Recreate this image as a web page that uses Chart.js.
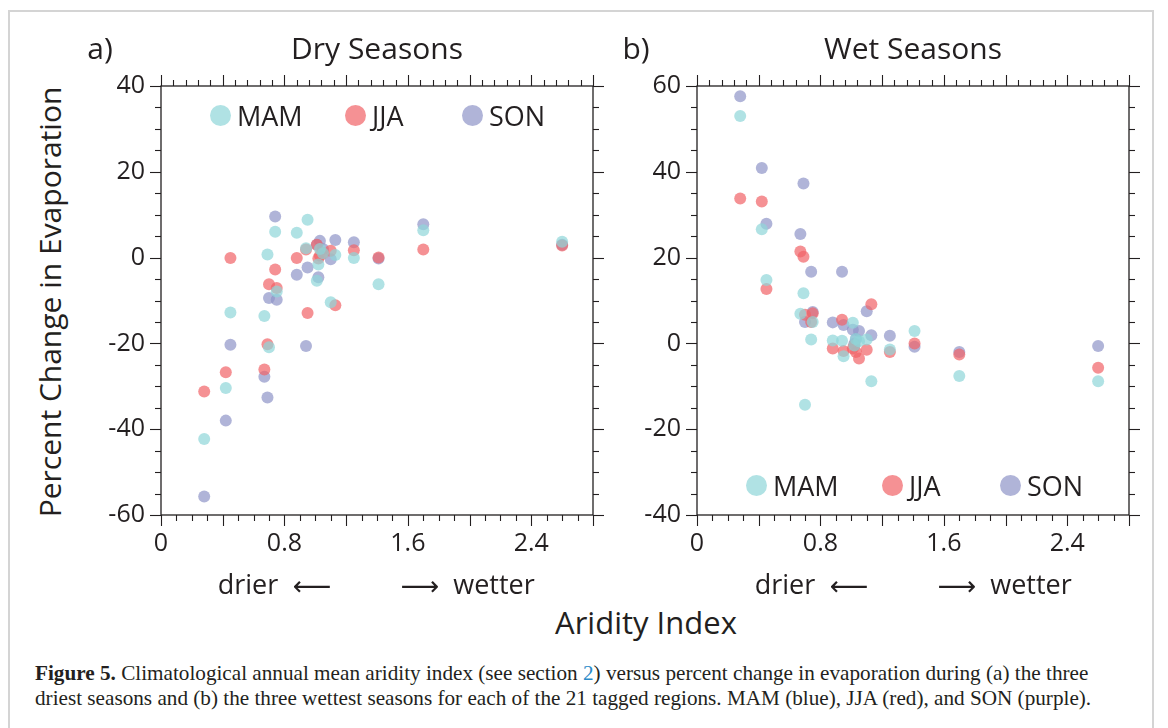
<!DOCTYPE html>
<html>
<head>
<meta charset="utf-8">
<script src="https://cdn.jsdelivr.net/npm/chart.js@4.4.1/dist/chart.umd.min.js"></script>
<style>
  body { margin: 0; background: #fff; width: 1168px; height: 728px; overflow: hidden; position: relative; font-family: 'Open Sans', sans-serif; color: #231f20; }
  .frame { position: absolute; left: 8px; top: 10px; width: 1146px; height: 740px; border: 2px solid #d4d4d4; box-sizing: border-box; }
  canvas { position: absolute; }
  .t { position: absolute; white-space: nowrap; transform: translate(-50%, -50%); line-height: 1; }
  .lg { position: absolute; display: flex; align-items: center; font-size: 27px; line-height: 1; }
  .lg span.dot { display: inline-block; width: 21px; height: 21px; border-radius: 50%; margin-right: 6px; }
  .caption { position: absolute; left: 35px; top: 661px; font-family: 'Liberation Serif', serif; font-size: 21.2px; line-height: 25px; color: #231f20; white-space: nowrap; }
  .caption a { color: #2a8ac8; text-decoration: none; }
</style>
</head>
<body>
<div class="frame"></div>
<canvas id="dry" width="540" height="510" style="left:80px;top:55px;width:540px;height:510px"></canvas>
<canvas id="wet" width="540" height="510" style="left:616px;top:55px;width:540px;height:510px"></canvas>

<div class="t" style="left:100px;top:48px;font-size:30px">a)</div>
<div class="t" style="left:377px;top:48px;font-size:30px">Dry Seasons</div>
<div class="t" style="left:636px;top:48px;font-size:30px">b)</div>
<div class="t" style="left:913px;top:48px;font-size:30px">Wet Seasons</div>

<div class="t" style="left:50px;top:302px;font-size:30px;transform:translate(-50%,-50%) rotate(-90deg)">Percent Change in Evaporation</div>
<div class="t" style="left:646px;top:622px;font-size:31px">Aridity Index</div>

<div class="t" style="left:248px;top:583px;font-size:27px">drier</div>
<div class="t" style="left:312px;top:585px;font-size:27px;font-family:'DejaVu Sans'">&#x27F5;</div>
<div class="t" style="left:420px;top:585px;font-size:27px;font-family:'DejaVu Sans'">&#x27F6;</div>
<div class="t" style="left:494px;top:583px;font-size:27px">wetter</div>
<div class="t" style="left:785px;top:583px;font-size:27px">drier</div>
<div class="t" style="left:849px;top:585px;font-size:27px;font-family:'DejaVu Sans'">&#x27F5;</div>
<div class="t" style="left:957px;top:585px;font-size:27px;font-family:'DejaVu Sans'">&#x27F6;</div>
<div class="t" style="left:1031px;top:583px;font-size:27px">wetter</div>

<div id="legendDry"></div>
<div id="legendWet"></div>

<div class="caption"><b>Figure 5.</b> Climatological annual mean aridity index (see section <a>2</a>) versus percent change in evaporation during (a) the three<br>driest seasons and (b) the three wettest seasons for each of the 21 tagged regions. MAM (blue), JJA (red), and SON (purple).</div>

<script>
// aridity index of the 21 tagged regions
const aridity = [0.28, 0.42, 0.45, 0.67, 0.69, 0.70, 0.74, 0.75, 0.88, 0.94, 0.95,
                 1.01, 1.02, 1.03, 1.05, 1.10, 1.13, 1.25, 1.41, 1.70, 2.60];

// percent change in evaporation, dry seasons
const dryMAM = [-42.3, -30.4, -12.8, -13.6, 0.7, -20.9, 6.0, -7.9, 5.8, 2.2, 8.8,
                -5.4, -1.6, 2.0, 1.0, -10.4, 0.6, -0.1, -6.2, 6.4, 3.7];
const dryJJA = [-31.2, -26.7, -0.1, -26.1, -20.2, -6.2, -2.8, -7.1, -0.1, 1.9, -12.9,
                3.0, -0.2, 0.5, 1.0, 1.6, -11.1, 1.7, 0.0, 1.9, 2.8];
const drySON = [-55.7, -38.0, -20.3, -27.8, -32.6, -9.4, 9.6, -9.8, -4.0, -20.6, -2.3,
                3.0, -4.6, 3.9, 2.0, -0.4, 4.1, 3.6, -0.2, 7.8, 3.0];

// percent change in evaporation, wet seasons
const wetMAM = [53.0, 26.6, 14.8, 6.9, 11.7, -14.3, 0.9, 5.0, 0.7, 0.6, -3.0,
                4.8, -0.5, 1.0, 0.5, 0.9, -8.8, -1.4, 2.9, -7.6, -8.8];
const wetJJA = [33.8, 33.1, 12.7, 21.4, 20.2, 6.7, 5.0, 7.0, -1.2, 5.5, -1.8,
                -1.2, -0.5, -2.0, -3.5, -1.5, 9.1, -2.0, 0.0, -2.6, -5.7];
const wetSON = [57.6, 40.9, 27.9, 25.5, 37.3, 5.0, 16.7, 7.3, 4.9, 16.7, 4.3,
                3.2, -0.1, 1.0, 2.9, 7.5, 1.9, 1.8, -0.8, -2.0, -0.6];

const seasons = ['MAM', 'JJA', 'SON'];
const xTicks = [0, 0.8, 1.6, 2.4];
const dryYTicks = [-60, -40, -20, 0, 20, 40];
const wetYTicks = [-40, -20, 0, 20, 40, 60];

const pointColors = ['rgba(142, 214, 216, 0.7)', 'rgba(241, 98, 102, 0.7)', 'rgba(142, 148, 199, 0.7)'];
const legendColors = ['#b0e2e4', '#f59194', '#b0b4d8'];

// box round the plot with outward ticks on all four sides
const frameTicks = {
  id: 'frameTicks',
  afterDraw(chart) {
    const { ctx, chartArea: a, scales: { x, y } } = chart;
    ctx.save();
    ctx.strokeStyle = '#231f20';
    ctx.lineWidth = 1.3;
    ctx.strokeRect(a.left, a.top, a.right - a.left, a.bottom - a.top);
    ctx.lineWidth = 1.1;
    const line = (x1, y1, x2, y2) => {
      ctx.beginPath();
      ctx.moveTo(x1, y1);
      ctx.lineTo(x2, y2);
      ctx.stroke();
    };
    for (let i = 0; i <= 28; i++) {
      const px = Math.round(x.getPixelForValue(i / 10)) + 0.5;
      line(px, a.bottom, px, a.bottom + (i % 4 === 0 ? 11 : 6));
    }
    for (let i = 0; i <= 35; i++) {
      const px = Math.round(x.getPixelForValue(i * 0.08)) + 0.5;
      line(px, a.top, px, a.top - (i % 5 === 0 ? 11 : 6));
    }
    for (let v = y.min; v <= y.max; v += 5) {
      const py = Math.round(y.getPixelForValue(v)) + 0.5;
      const len = v % 20 === 0 ? 11 : 6;
      line(a.left, py, a.left - len, py);
      line(a.right, py, a.right + len, py);
    }
    ctx.restore();
  }
};

function makeChart(id, series, yTicks) {
  const datasets = series.map((vals, i) => ({
    label: seasons[i],
    data: vals.map((v, k) => ({ x: aridity[k], y: v })),
    backgroundColor: pointColors[i],
    borderWidth: 0,
    pointRadius: 6,
  }));
  return new Chart(document.getElementById(id), {
    type: 'scatter',
    data: { datasets },
    options: {
      responsive: false,
      animation: false,
      layout: { padding: { left: 0, top: 10, right: 27, bottom: 0 } },
      plugins: { legend: { display: false }, tooltip: { enabled: false } },
      scales: {
        x: {
          type: 'linear', min: 0, max: 2.8,
          grid: { display: false, drawTicks: false },
          border: { display: false },
          afterBuildTicks: (s) => { s.ticks = xTicks.map((v) => ({ value: v })); },
          afterFit: (s) => { s.height = 50; },
          ticks: {
            autoSkip: false, maxRotation: 0, padding: 14,
            color: '#231f20',
            font: { family: 'Open Sans', size: 25 },
            callback: (v) => String(v),
          },
        },
        y: {
          type: 'linear', min: yTicks[0], max: yTicks[yTicks.length - 1],
          grid: { display: false, drawTicks: false },
          border: { display: false },
          afterBuildTicks: (s) => { s.ticks = yTicks.map((v) => ({ value: v })); },
          afterFit: (s) => { s.width = 81; },
          ticks: {
            autoSkip: false, padding: 16,
            color: '#231f20',
            font: { family: 'Open Sans', size: 25 },
            callback: (v) => String(v),
          },
        },
      },
    },
    plugins: [frameTicks],
  });
}

function makeLegend(id, left, top, gaps) {
  const box = document.getElementById(id);
  seasons.forEach((s, i) => {
    const el = document.createElement('div');
    el.className = 'lg';
    el.style.left = (left + gaps[i]) + 'px';
    el.style.top = top + 'px';
    el.innerHTML = '<span class="dot" style="background:' + legendColors[i] + '"></span>' + s;
    box.appendChild(el);
  });
}

makeChart('dry', [dryMAM, dryJJA, drySON], dryYTicks);
makeChart('wet', [wetMAM, wetJJA, wetSON], wetYTicks);
makeLegend('legendDry', 210, 102, [0, 135, 252]);
makeLegend('legendWet', 746, 472, [0, 136, 254]);
</script>
</body>
</html>
